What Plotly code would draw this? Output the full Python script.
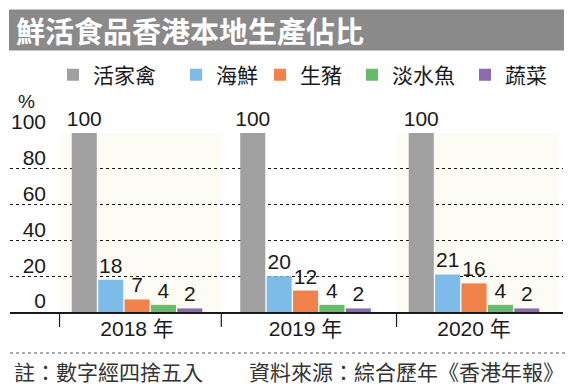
import plotly.graph_objects as go

# ---- data ----
years = ["2018 年", "2019 年", "2020 年"]
series_names = ["活家禽", "海鮮", "生豬", "淡水魚", "蔬菜"]
poultry = [100, 100, 100]
seafood = [18, 20, 21]
pork = [7, 12, 16]
fish = [4, 4, 4]
veg = [2, 2, 2]
colors = ["#a0a0a0", "#7dbce8", "#f0824a", "#67bb6a", "#8a6bb0"]
ytick_vals = [0, 20, 40, 60, 80, 100]
ytick_text = ["0", "20", "40", "60", "80", "100"]
title_text = "鮮活食品香港本地生產佔比"
note_left = "註：數字經四捨五入"
note_right = "資料來源：綜合歷年《香港年報》"

W, H = 576, 390
ML, MR, MT, MB = 10, 13, 133, 78
PW = W - ML - MR
PH = H - MT - MB


def px(xp):
    return (xp - ML) / PW


def py(yp):
    return (H - MB - yp) / PH


FONT = "Liberation Sans, Arial, Noto Sans CJK TC, sans-serif"
CJK = "Noto Sans CJK TC, sans-serif"

# legend swatch left edges (px) for each series
legend_px = [70, 193, 277, 369, 482]

fig = go.Figure()
for i, (name, vals, c) in enumerate(zip(series_names, [poultry, seafood, pork, fish, veg], colors)):
    fig.add_trace(go.Bar(
        x=years, y=vals, name=name, marker=dict(color=c, line=dict(width=0)),
        text=[str(v) for v in vals], textposition="outside", constraintext="none",
        textfont=dict(family=FONT, size=21, color="#1a1a1a"),
        cliponaxis=False, legend="legend" if i == 0 else f"legend{i + 1}",
    ))

shapes = []
# faint cream bands behind first and last groups
for x0, x1 in [(-0.46, 0.5), (1.54, 2.5)]:
    shapes.append(dict(type="rect", xref="x", yref="paper", x0=x0, x1=x1, y0=0, y1=1,
                       fillcolor="#fdfcf4", line=dict(width=0), layer="below"))
# separators below the axis
for xs in [-0.46, 0.5, 1.54]:
    shapes.append(dict(type="line", xref="x", yref="paper", x0=xs, x1=xs,
                       y0=0, y1=py(327), line=dict(color="#1a1a1a", width=1.2)))
# title bar
shapes.append(dict(type="rect", xref="paper", yref="paper", x0=px(9), x1=px(564),
                   y0=py(50.5), y1=py(9.5), fillcolor="#8a8a8a", line=dict(width=0)))
# footnote dotted line
shapes.append(dict(type="line", xref="paper", yref="paper", x0=px(10), x1=px(565),
                   y0=py(353), y1=py(353), line=dict(color="#555", width=1, dash="dot")))

annotations = [
    dict(text=title_text, xref="paper", yref="paper", x=px(14), y=py(30),
         xanchor="left", yanchor="middle", showarrow=False,
         font=dict(family=CJK, size=29, color="white", weight="bold")),
    dict(text="%", xref="paper", yref="paper", x=px(16), y=py(101),
         xanchor="left", yanchor="middle", showarrow=False,
         font=dict(family=FONT, size=19, color="#1a1a1a")),
    dict(text=note_left, xref="paper", yref="paper", x=px(12), y=py(371),
         xanchor="left", yanchor="middle", showarrow=False,
         font=dict(family=CJK, size=21, color="#333")),
    dict(text=note_right, xref="paper", yref="paper", x=px(566), y=py(371),
         xanchor="right", yanchor="middle", showarrow=False,
         font=dict(family=CJK, size=21, color="#333")),
]

legends = {}
for i, lx in enumerate(legend_px):
    key = "legend" if i == 0 else f"legend{i + 1}"
    legends[key] = dict(orientation="h", x=px(lx - 17), y=py(75), xanchor="left", yanchor="middle",
                        font=dict(family=CJK, size=21, color="#1a1a1a"),
                        bgcolor="rgba(0,0,0,0)")

fig.update_layout(
    width=W, height=H,
    margin=dict(l=ML, r=MR, t=MT, b=MB, autoexpand=False),
    paper_bgcolor="white", plot_bgcolor="white",
    barmode="group", bargap=0.217, bargroupgap=0.05,
    shapes=shapes, annotations=annotations,
    showlegend=True,
    xaxis=dict(range=[-0.754, 2.528], showline=True, linecolor="#1a1a1a", linewidth=1.5,
               ticks="", showgrid=False, ticklabelstandoff=-3,
               tickfont=dict(family=FONT, size=21, color="#1a1a1a"), automargin=False),
    yaxis=dict(range=[0, 100], tickvals=ytick_vals, ticktext=ytick_text,
               showgrid=True, gridcolor="#1a1a1a", gridwidth=1, griddash="dot",
               showline=False, zeroline=False, ticks="",
               ticklabelposition="outside", ticklabelstandoff=-37, ticklabelshift=-11,
               tickfont=dict(family=FONT, size=21, color="#1a1a1a"), automargin=False),
    **legends,
)

fig.write_html("out.html", config={"displayModeBar": False},
               post_script="document.body.style.margin='0';")
